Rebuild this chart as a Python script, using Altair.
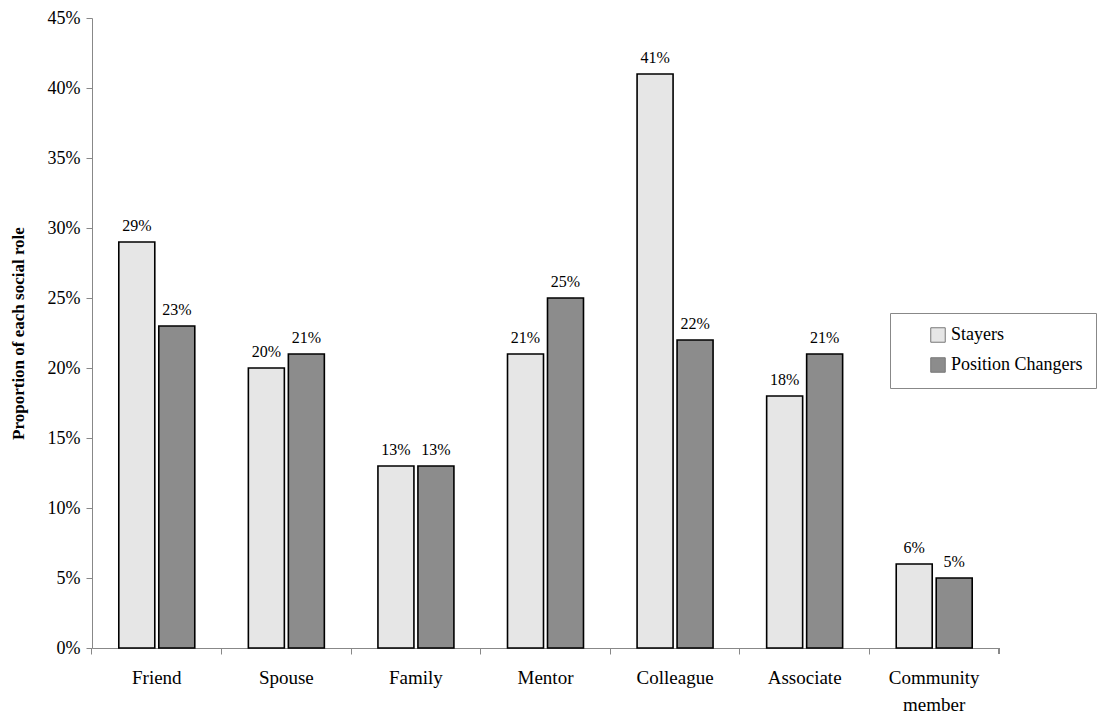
import altair as alt
import pandas as pd

categories = ["Friend", "Spouse", "Family", "Mentor", "Colleague", "Associate", "Community member"]
stayers = [0.29, 0.20, 0.13, 0.21, 0.41, 0.18, 0.06]
changers = [0.23, 0.21, 0.13, 0.25, 0.22, 0.21, 0.05]
groups = ["Stayers", "Position Changers"]
y_ticks = [0, 0.05, 0.10, 0.15, 0.20, 0.25, 0.30, 0.35, 0.40, 0.45]

rows = []
for c, s, p in zip(categories, stayers, changers):
    rows.append({"role": c, "group": groups[0], "value": s})
    rows.append({"role": c, "group": groups[1], "value": p})
df = pd.DataFrame(rows)

FONT = "Liberation Serif"
W, H = 907, 630

x = alt.X("role:N", sort=categories, title=None,
          scale=alt.Scale(paddingInner=0, paddingOuter=0),
          axis=alt.Axis(bandPosition=0, labelAngle=0, labelFont=FONT, labelFontSize=19,
                        labelColor="black", labelPadding=14, labelLineHeight=27,
                        labelExpr="split(datum.label, ' ')", tickSize=6,
                        tickColor="#888888", domainColor="#888888", labelBaseline="top"))
xo = alt.XOffset("group:N", sort=groups,
                 scale=alt.Scale(paddingInner=0.1, paddingOuter=0.67))
y = alt.Y("value:Q", title="Proportion of each social role",
          scale=alt.Scale(domain=[0, 0.45], nice=False),
          axis=alt.Axis(values=y_ticks, format=".0%", grid=False, labelFont=FONT,
                        labelFontSize=18, labelColor="black", tickSize=6,
                        tickColor="#888888", domainColor="#888888",
                        titleFont=FONT, titleFontSize=17, titleFontWeight="bold",
                        titleColor="black", titlePadding=20, labelPadding=6))
color = alt.Color("group:N", sort=groups,
                  scale=alt.Scale(domain=groups, range=["#e6e6e6", "#8c8c8c"]),
                  legend=alt.Legend(title=None, orient="none", legendX=798, legendY=295,
                                    labelFont=FONT, labelFontSize=18, labelColor="black",
                                    symbolType="square", symbolSize=210,
                                    symbolStrokeColor="#777777", symbolStrokeWidth=1,
                                    symbolOffset=26, labelPadding=3, rowPadding=10,
                                    padding=13, strokeColor="#888888", fillColor="white"))

bars = alt.Chart(df).mark_bar(stroke="black", strokeWidth=1.6).encode(
    x=x, xOffset=xo, y=y, color=color)

labels = alt.Chart(df).mark_text(font=FONT, fontSize=16, baseline="bottom", dy=-8,
                                 color="black").encode(
    x=alt.X("role:N", sort=categories), xOffset=xo, y="value:Q",
    text=alt.Text("value:Q", format=".0%"))

end_tick = alt.Chart(df).mark_rule(color="#888888").encode(
    x=alt.value(W), y=alt.value(H), y2=alt.value(H + 6))

chart = alt.layer(bars, labels, end_tick).properties(
    width=W, height=H,
    background="white",
    autosize=alt.AutoSizeParams(type="none"),
    padding={"left": 92, "top": 18, "right": 108, "bottom": 67},
).configure_view(strokeWidth=0, stroke=None)

chart.save("out.html", embed_options={"renderer": "svg", "actions": False})
